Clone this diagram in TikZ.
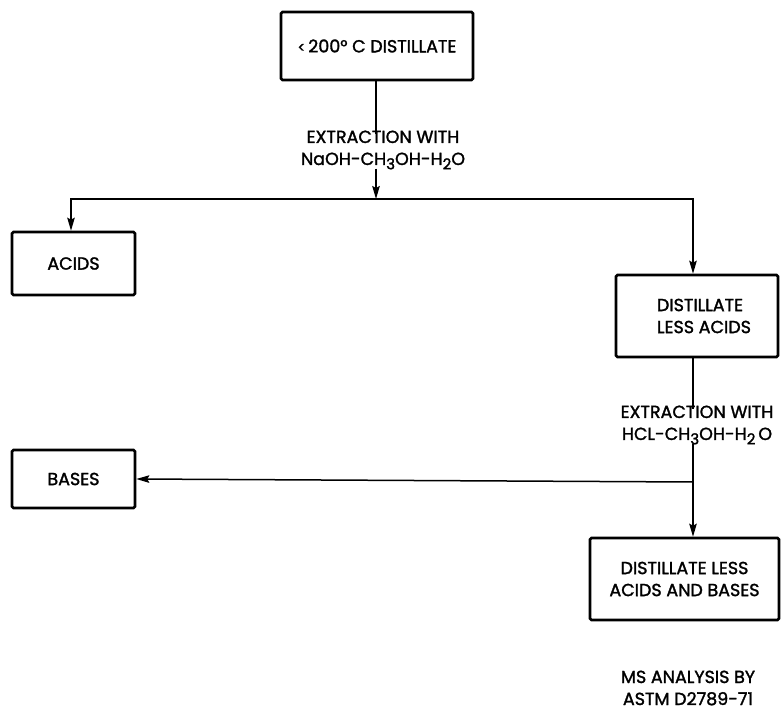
\documentclass[tikz,border=0pt]{standalone}
\usepackage{fontspec}
\setmainfont{Poppins}[FakeBold=1.6]
\usetikzlibrary{arrows.meta}
\newcommand{\sbs}[1]{\raisebox{-0.45ex}{\fontsize{15}{15}\selectfont #1}}
\begin{document}
\begin{tikzpicture}[x=1pt,y=-1pt,
  every node/.style={font=\fontsize{17.5}{22}\selectfont, inner sep=0pt},
  stepbox/.style={draw, line width=2.6pt, rounded corners=1.5pt, align=center},
  tag/.style={align=center},
  link/.style={line width=1.5pt},
  flow/.style={link, -{Stealth[length=13pt,width=7.5pt,inset=2pt]}}]
\useasboundingbox (0,0) rectangle (781,711);

% process boxes
\node[stepbox, minimum width=192pt, minimum height=68pt] (top) at (377,46)
  {{\fontsize{14}{14}\selectfont <}\,200\textdegree\ C DISTILLATE};
\node[stepbox, minimum width=123pt, minimum height=63pt] (acids) at (73.5,263.5) {ACIDS};
\node[stepbox, minimum width=162pt, minimum height=82pt, align=left] (dla) at (697,316)
  {\hspace*{14pt}DISTILLATE\\\hspace*{14pt}LESS ACIDS};
\node[stepbox, minimum width=123pt, minimum height=58pt] (bases) at (73.5,479) {BASES};
\node[stepbox, minimum width=189pt, minimum height=82pt] (dlab) at (684.5,579)
  {DISTILLATE LESS\\ACIDS AND BASES};

% extraction steps
\node[tag] (lab1) at (383,150) {EXTRACTION WITH\\NaOH-CH\sbs{3}OH-H\sbs{2}O};
\node[tag] (lab2) at (697,425) {EXTRACTION WITH\\HCL-CH\sbs{3}OH-H\sbs{2}\,O};

% final note
\node[tag] (ms) at (688,688) {MS ANALYSIS BY\\ASTM D2789-71};

% junctions
\coordinate (j1) at (376,199);
\coordinate (j2) at (693,482);

% connectors
\draw[link] (top.south -| j1) -- ([yshift=-4pt]lab1.north -| j1);
\draw[flow] ([yshift=1pt]lab1.south -| j1) -- (j1);
\draw[flow] (j1) -| ([xshift=-2.5pt]acids.north);
\draw[flow] (j1) -| (dla.north -| j2);
\draw[link] (dla.south -| j2) -- ([yshift=-4pt]lab2.north -| j2);
\draw[flow] ([yshift=1pt]lab2.south -| j2) -- (dlab.north -| j2);
\draw[flow] (j2) -- (bases.east);
\end{tikzpicture}
\end{document}
